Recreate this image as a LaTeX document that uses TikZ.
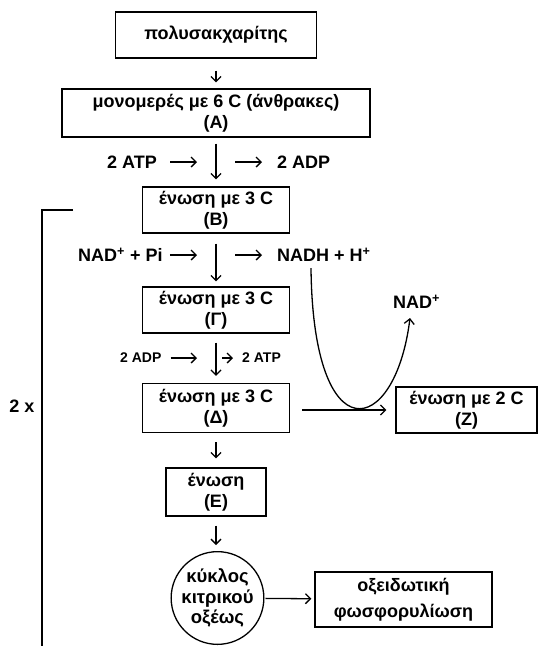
\documentclass[tikz,border=0pt]{standalone}
\usepackage{fontspec}
\setmainfont{Liberation Sans}
\usetikzlibrary{arrows.meta}

\tikzset{
  box/.style={draw, line width=1.3pt, align=center, inner sep=0pt,
    font=\bfseries\fontsize{18}{21}\selectfont},
  lbl/.style={inner sep=0pt, anchor=west, font=\bfseries\fontsize{18}{21}\selectfont},
  small/.style={inner sep=0pt, anchor=west, font=\bfseries\fontsize{14}{16}\selectfont},
  arr/.style={-{Straight Barb[length=5pt,width=10pt]}, line width=1.3pt},
}

\begin{document}
\begin{tikzpicture}[x=1pt,y=-1pt]
  \useasboundingbox (0,0) rectangle (539,646);

  % main chain
  \node[box, minimum width=201, minimum height=46] (poly) at (216,35) {πολυσακχαρίτης};
  \node[box, minimum width=308, minimum height=48] (monA) at (216,113) {μονομερές με 6 C (άνθρακες)\\(A)};
  \node[box, minimum width=147, minimum height=46] (enB) at (216,210) {ένωση με 3 C\\(B)};
  \node[box, minimum width=147, minimum height=46] (enG) at (216,310) {ένωση με 3 C\\(Γ)};
  \node[box, minimum width=147, minimum height=49] (enD) at (216,408) {ένωση με 3 C\\(Δ)};
  \node[box, minimum width=141, minimum height=46] (enZ) at (466.5,410) {ένωση με 2 C\\(Z)};
  \node[box, minimum width=100, minimum height=48] (enE) at (216,492) {ένωση\\(E)};
  \node[box, circle, minimum size=92, font=\bfseries\fontsize{18.5}{20.5}\selectfont] (kyk) at (217.5,598) {κύκλος\\κιτρικού\\οξέως};
  \node[box, minimum width=177, minimum height=55, font=\bfseries\fontsize{18}{26}\selectfont] (oxid) at (403.5,599.5) {οξειδωτική\\φωσφορυλίωση};

  % side labels
  \node[lbl] (atp) at (107,162) {2 ATP};
  \node[lbl] (adp) at (277,162) {2 ADP};
  \node[lbl] (nadpi) at (78,255) {NAD\textsuperscript{+} + Pi};
  \node[lbl] (nadh) at (277,255) {NADH + H\textsuperscript{+}};
  \node[lbl] (nad) at (393,302) {NAD\textsuperscript{+}};
  \node[small] (adp2) at (120,358) {2 ADP};
  \node[small] (atp2) at (242,358) {2 ATP};
  \node[lbl, anchor=center] (twox) at (22,406) {2 x};

  \coordinate (atpto) at (197,162);
  \coordinate (adpfrom) at (235,162);
  \coordinate (nadpito) at (197,255);
  \coordinate (nadhfrom) at (235,255);
  \coordinate (adp2to) at (197,358);
  \coordinate (atp2from) at (222,358);
  \coordinate (brtop) at (73,210);
  \coordinate (brcorner) at (42,210);
  \coordinate (brbottom) at (42,646);

  % arrows down the chain
  \draw[arr, shorten <=12pt, shorten >=6pt] (poly) -- (monA);
  \draw[arr, shorten <=6pt, shorten >=7pt] (monA) -- (enB);
  \draw[arr, shorten <=10pt, shorten >=5pt] (enB) -- (enG);
  \draw[arr, shorten <=9pt, shorten >=7pt] (enG) -- (enD);
  \draw[arr, shorten <=9pt, shorten >=9pt] (enD) -- (enE);
  \draw[arr, shorten <=9pt, shorten >=6pt] (enE.south) -- (enE.south |- kyk.north);
  \draw[arr, shorten <=12pt, shorten >=9pt] (enD.east |- enZ) -- (enZ);
  \draw[arr, shorten <=1pt, shorten >=3pt] (kyk) -- (oxid);

  % side arrows
  \draw[arr, shorten <=13pt] (atp.east) -- (atpto);
  \draw[arr, shorten >=15pt] (adpfrom) -- (adp.west);
  \draw[arr, shorten <=7pt] (nadpi.east) -- (nadpito);
  \draw[arr, shorten >=15pt] (nadhfrom) -- (nadh.west);
  \draw[arr, shorten <=9pt] (adp2.east) -- (adp2to);
  \draw[arr, shorten >=9pt] (atp2from) -- (atp2.west);
  \draw[arr] ([xshift=34pt,yshift=-6pt]nadh.south west) .. controls (313,455) and (395,438) .. ([xshift=17pt,yshift=-9pt]nad.south west);

  % 2x bracket
  \draw[line width=1.3pt] (brtop) -- (brcorner) -- (brbottom);
\end{tikzpicture}
\end{document}
